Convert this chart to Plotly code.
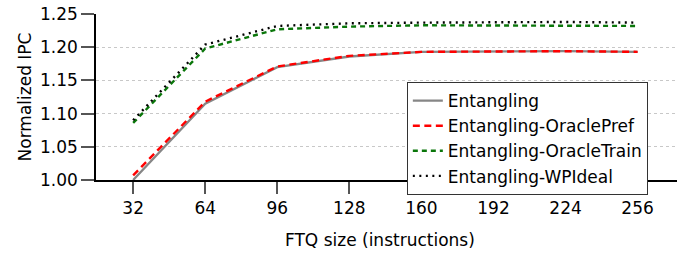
import plotly.graph_objects as go

ftq_sizes = [32, 64, 96, 128, 160, 192, 224, 256]
entangling = [1.000, 1.115, 1.170, 1.186, 1.193, 1.194, 1.194, 1.193]
oracle_pref = [1.007, 1.118, 1.171, 1.187, 1.193, 1.194, 1.194, 1.193]
oracle_train = [1.086, 1.198, 1.227, 1.231, 1.233, 1.233, 1.233, 1.232]
wp_ideal = [1.090, 1.204, 1.232, 1.236, 1.237, 1.238, 1.238, 1.237]
y_ticks = [1.00, 1.05, 1.10, 1.15, 1.20, 1.25]
x_title = "FTQ size (instructions)"
y_title = "Normalized IPC"

FONT = "DejaVu Sans, Liberation Sans, Arial, sans-serif"

fig = go.Figure()
fig.add_trace(go.Scatter(x=ftq_sizes, y=entangling, mode="lines", name="Entangling",
                         line=dict(color="#868686", width=2.3, dash="solid")))
fig.add_trace(go.Scatter(x=ftq_sizes, y=oracle_pref, mode="lines", name="Entangling-OraclePref",
                         line=dict(color="#ff0000", width=2.4, dash="7px,4.5px")))
fig.add_trace(go.Scatter(x=ftq_sizes, y=oracle_train, mode="lines", name="Entangling-OracleTrain",
                         line=dict(color="#0a760a", width=2.4, dash="5px,4px")))
fig.add_trace(go.Scatter(x=ftq_sizes, y=wp_ideal, mode="lines", name="Entangling-WPIdeal",
                         line=dict(color="#000000", width=2.4, dash="2px,4.5px")))

fig.update_layout(
    width=683, height=253,
    margin=dict(l=96, r=6, t=13.5, b=72.7, autoexpand=False),
    plot_bgcolor="white", paper_bgcolor="white",
    font=dict(family=FONT, size=17, color="#000000"),
    legend=dict(x=0.535, y=0.59, xanchor="left", yanchor="top",
                bgcolor="white", bordercolor="#333333", borderwidth=1,
                font=dict(size=17), tracegroupgap=0, itemwidth=30),
    xaxis=dict(range=[15.5, 273.5], tickvals=ftq_sizes, ticks="outside", ticklen=12,
               tickcolor="#555555", tickwidth=1.5, showline=True, linecolor="#000000",
               linewidth=1.5, showgrid=False, zeroline=False, automargin=False,
               ticklabeloverflow="allow"),
    yaxis=dict(range=[1.0, 1.25], tickvals=y_ticks, tickformat=".2f", ticks="outside",
               ticklen=13, tickcolor="#555555", tickwidth=1.5, showline=True,
               linecolor="#000000", linewidth=1.5, showgrid=True, gridcolor="#c8c8c8",
               griddash="dot", gridwidth=1, zeroline=False, automargin=False,
               ticklabeloverflow="allow",
               title=dict(text=y_title, font=dict(size=17), standoff=4)),
    annotations=[dict(text=x_title, xref="paper", yref="paper", x=0.489, y=0,
                      xanchor="center", yanchor="middle", yshift=-60, showarrow=False,
                      font=dict(size=17))],
)

# Remove the browser's default 8px body margin so the figure fills the window exactly.
fig.write_html("out.html", config={"displayModeBar": False},
               post_script="document.body.style.margin='0';")
